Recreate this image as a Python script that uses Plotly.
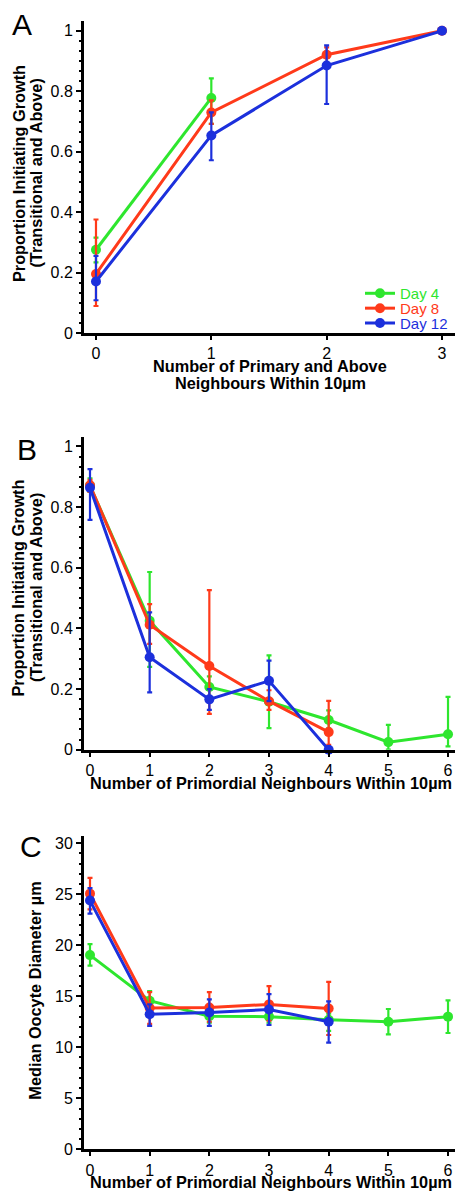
import plotly.graph_objects as go

GREEN = "#2ee62e"
RED = "#ff3a1a"
BLUE = "#1c30dc"
FONT = "Liberation Sans"

# Panel A
a_x_g = [0, 1]
a_y_g = [0.276, 0.778]
a_hi_g = [0.316, 0.843]
a_lo_g = [0.234, 0.692]
a_x_r = [0, 1, 2, 3]
a_y_r = [0.196, 0.730, 0.921, 1.0]
a_hi_r = [0.376, 0.77, 0.945, 1.0]
a_lo_r = [0.09, 0.692, 0.895, 1.0]
a_x_b = [0, 1, 2, 3]
a_y_b = [0.171, 0.654, 0.885, 1.0]
a_hi_b = [0.256, 0.73, 0.952, 1.0]
a_lo_b = [0.109, 0.572, 0.758, 1.0]

# Panel B
b_x_g = [0, 1, 2, 3, 4, 5, 6]
b_y_g = [0.87, 0.425, 0.207, 0.158, 0.098, 0.025, 0.051]
b_hi_g = [0.895, 0.586, 0.242, 0.311, 0.13, 0.082, 0.174]
b_lo_g = [0.85, 0.273, 0.17, 0.071, 0.07, 0.0, 0.011]
b_x_r = [0, 1, 2, 3, 4]
b_y_r = [0.872, 0.412, 0.276, 0.160, 0.058]
b_hi_r = [0.89, 0.48, 0.526, 0.196, 0.161]
b_lo_r = [0.85, 0.349, 0.118, 0.131, 0.016]
b_x_b = [0, 1, 2, 3, 4]
b_y_b = [0.864, 0.305, 0.166, 0.227, 0.0]
b_hi_b = [0.925, 0.453, 0.20, 0.294, 0.0]
b_lo_b = [0.758, 0.189, 0.131, 0.16, 0.0]

# Panel C
c_x_g = [0, 1, 2, 3, 4, 5, 6]
c_y_g = [19.03, 14.56, 13.04, 13.0, 12.7, 12.5, 13.0]
c_hi_g = [20.1, 15.5, 13.6, 13.6, 13.3, 13.75, 14.6]
c_lo_g = [18.0, 13.75, 12.4, 12.4, 11.6, 11.26, 11.4]
c_x_r = [0, 1, 2, 3, 4]
c_y_r = [25.05, 13.85, 13.9, 14.2, 13.8]
c_hi_r = [26.6, 15.4, 15.4, 16.0, 16.4]
c_lo_r = [23.5, 12.3, 12.5, 12.6, 11.2]
c_x_b = [0, 1, 2, 3, 4]
c_y_b = [24.37, 13.24, 13.4, 13.7, 12.5]
c_hi_b = [25.6, 14.2, 14.7, 15.2, 14.5]
c_lo_b = [23.1, 12.1, 12.1, 12.2, 10.45]

series_names = ["Day 4", "Day 8", "Day 12"]
colors = [GREEN, RED, BLUE]

W, H = 455, 1199

def py(px):
    return 1 - px / H

fig = go.Figure()

panels = [
    ("x", "y", [(a_x_g, a_y_g, a_hi_g, a_lo_g), (a_x_r, a_y_r, a_hi_r, a_lo_r), (a_x_b, a_y_b, a_hi_b, a_lo_b)]),
    ("x2", "y2", [(b_x_g, b_y_g, b_hi_g, b_lo_g), (b_x_r, b_y_r, b_hi_r, b_lo_r), (b_x_b, b_y_b, b_hi_b, b_lo_b)]),
    ("x3", "y3", [(c_x_g, c_y_g, c_hi_g, c_lo_g), (c_x_r, c_y_r, c_hi_r, c_lo_r), (c_x_b, c_y_b, c_hi_b, c_lo_b)]),
]

legend_ids = ["legend", "legend2", "legend3"]
for pi, (xa, ya, sers) in enumerate(panels):
    for si, (xs, ys, hi, lo) in enumerate(sers):
        plus = [h - v for h, v in zip(hi, ys)]
        minus = [v - l for v, l in zip(ys, lo)]
        fig.add_trace(go.Scatter(
            x=xs, y=ys, xaxis=xa, yaxis=ya,
            mode="lines+markers",
            name=series_names[si],
            showlegend=(pi == 0),
            legend=legend_ids[si],
            line=dict(color=colors[si], width=3),
            marker=dict(color=colors[si], size=10),
            error_y=dict(type="data", symmetric=False, array=plus, arrayminus=minus,
                         color=colors[si], thickness=2.2, width=2.5),
            cliponaxis=False,
        ))

xdom = [84 / W, 1]
axis_common = dict(showline=True, linecolor="black", linewidth=3, ticks="outside",
                   tickcolor="black", showgrid=False, zeroline=False,
                   tickfont=dict(family=FONT, size=16, color="black"))

fig.update_layout(
    width=W, height=H,
    margin=dict(l=0, r=0, t=0, b=0),
    paper_bgcolor="white", plot_bgcolor="white",
    font=dict(family=FONT, color="black"),
    xaxis=dict(domain=xdom, anchor="y", range=[-0.104, 3.113], tickvals=[0, 1, 2, 3],
               ticklen=4, tickwidth=2, **axis_common),
    yaxis=dict(domain=[py(335), py(20)], anchor="x", range=[0, 1.033],
               tickvals=[0, 0.2, 0.4, 0.6, 0.8, 1], ticktext=["0", "0.2", "0.4", "0.6", "0.8", "1"],
               ticklen=5, tickwidth=2,
               minor=dict(dtick=1 / 30, ticks="outside", ticklen=2, tickwidth=2, tickcolor="black"),
               **axis_common),
    xaxis2=dict(domain=xdom, anchor="y2", range=[-0.1006, 6.117], tickvals=list(range(7)),
                ticklen=4, tickwidth=2, **axis_common),
    yaxis2=dict(domain=[py(755), py(440)], anchor="x2", range=[0, 1.03],
                tickvals=[0, 0.2, 0.4, 0.6, 0.8, 1], ticktext=["0", "0.2", "0.4", "0.6", "0.8", "1"],
                ticklen=5, tickwidth=2,
                minor=dict(dtick=1 / 30, ticks="outside", ticklen=2, tickwidth=2, tickcolor="black"),
                **axis_common),
    xaxis3=dict(domain=xdom, anchor="y3", range=[-0.1006, 6.117], tickvals=list(range(7)),
                ticklen=4, tickwidth=2, **axis_common),
    yaxis3=dict(domain=[py(1158), py(842)], anchor="x3", range=[0, 30.7],
                tickvals=[0, 5, 10, 15, 20, 25, 30],
                ticklen=5, tickwidth=2,
                minor=dict(dtick=1, ticks="outside", ticklen=2, tickwidth=2, tickcolor="black"),
                **axis_common),
)

leg_rows = [295, 310, 325]
for lid, row, col in zip(legend_ids, leg_rows, colors):
    fig.update_layout({lid: dict(x=360 / W, xanchor="left", y=py(row), yanchor="middle",
                                 bgcolor="rgba(0,0,0,0)", itemwidth=30,
                                 font=dict(family=FONT, size=15, color=col))})

ann = []
def add_ann(text, x, y, size=16.3, angle=0, bold=True):
    ann.append(dict(text=(f"<b>{text}</b>" if bold else text), x=x / W, y=py(y),
                    xref="paper", yref="paper", showarrow=False, textangle=angle,
                    xanchor="center", yanchor="middle",
                    font=dict(family=FONT, size=size, color="black")))

add_ann("A", 22, 24, size=30, bold=False)
add_ann("B", 27, 452, size=30, bold=False)
add_ann("C", 31, 853, size=30, bold=False)
add_ann("Number of Primary and Above", 270, 368)
add_ann("Neighbours Within 10µm", 270, 385.5)
add_ann("Number of Primordial Neighbours Within 10µm", 271, 789)
add_ann("Number of Primordial Neighbours Within 10µm", 271, 1190.5)
add_ann("Proportion Initiating Growth", 18.5, 174, angle=-90)
add_ann("(Transitional and Above)", 36, 174, angle=-90)
add_ann("Proportion Initiating Growth", 18.5, 592, angle=-90)
add_ann("(Transitional and Above)", 36, 592, angle=-90)
add_ann("Median Oocyte Diameter µm", 35, 998, angle=-90)
fig.update_layout(annotations=ann)

fig.write_html("out.html", config={"displayModeBar": False},
               post_script="document.body.style.margin='0';document.body.style.padding='0';")
